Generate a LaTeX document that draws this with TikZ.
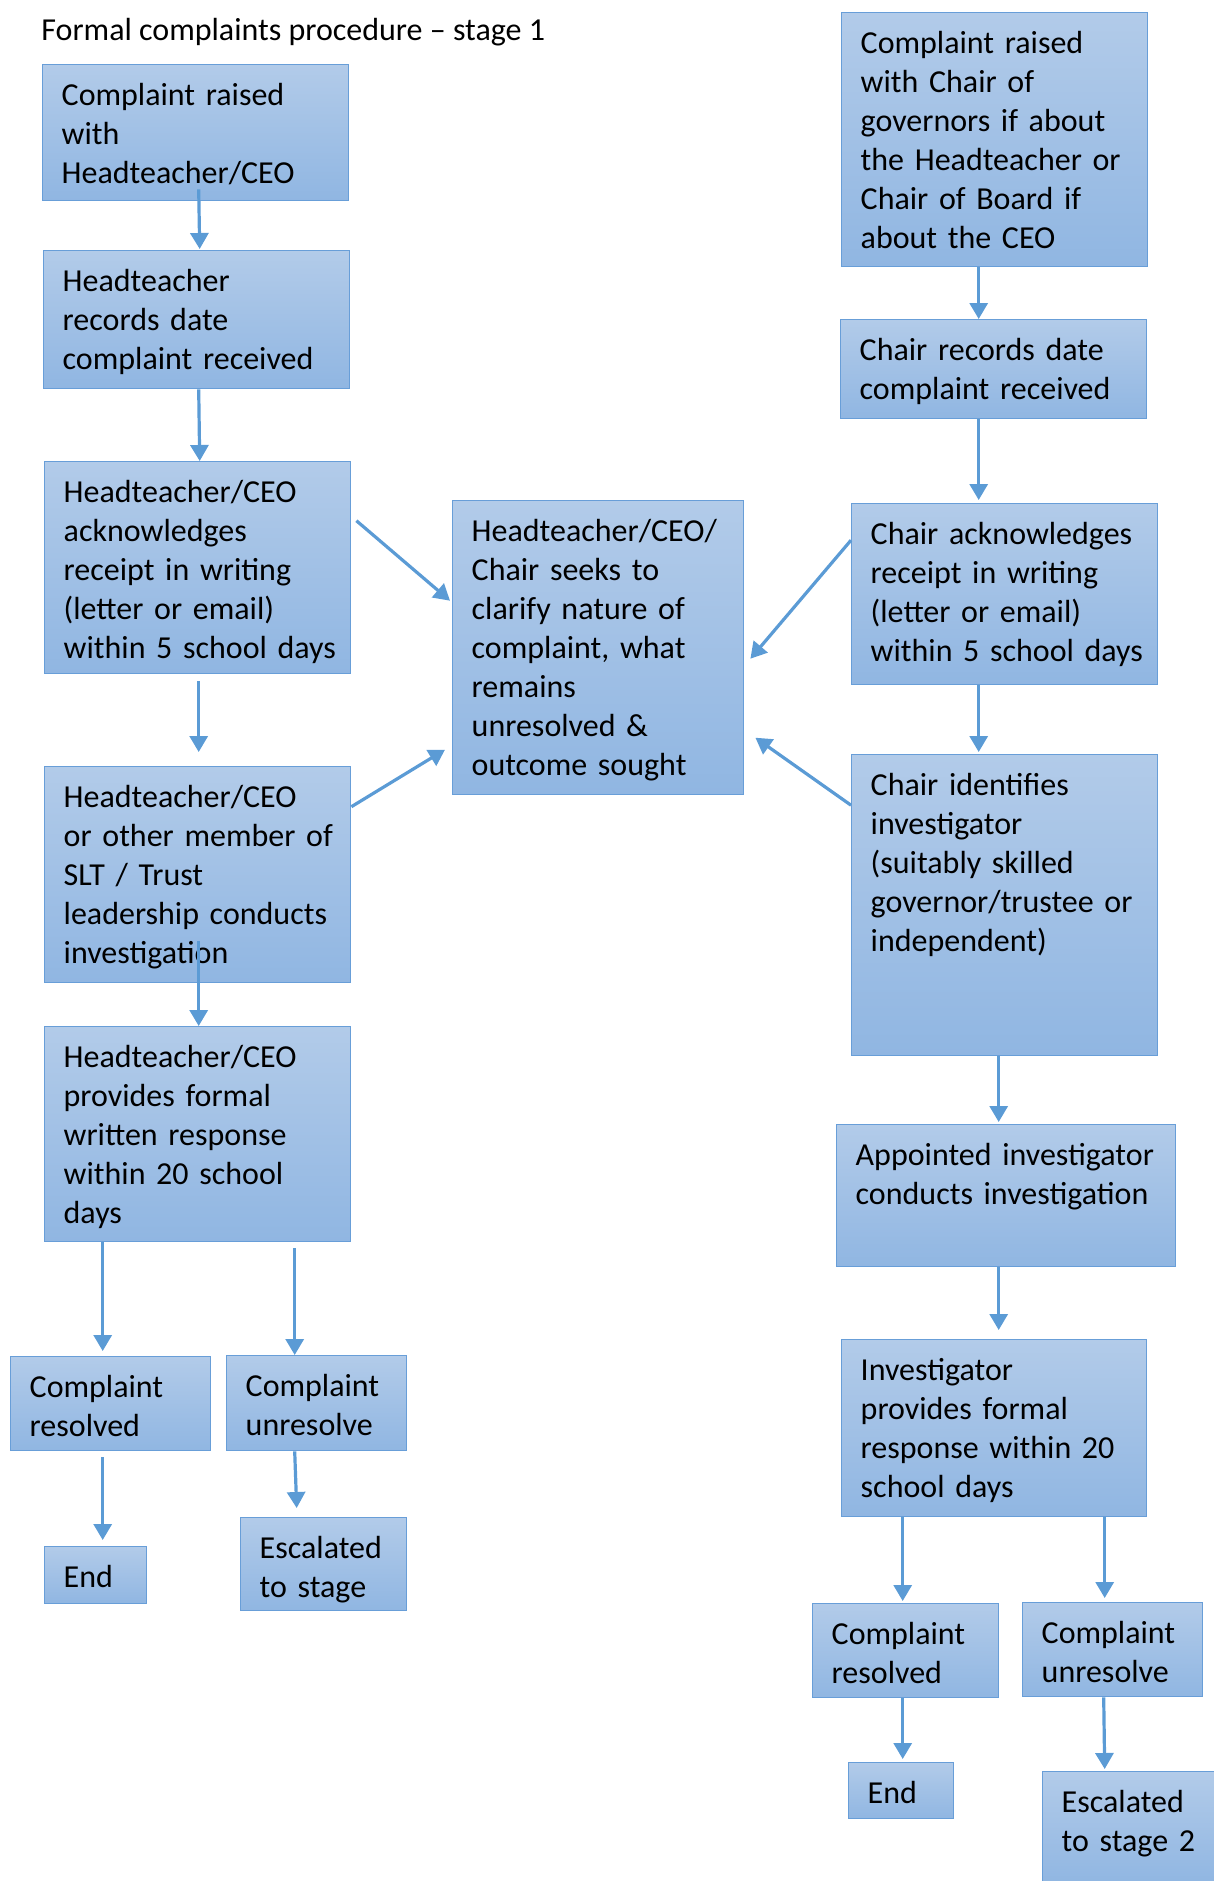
\documentclass[tikz,border=0pt]{standalone}
\usepackage{fontspec}
\setmainfont{Carlito}
\usetikzlibrary{arrows.meta}
\definecolor{boxtop}{RGB}{178,203,233}
\definecolor{boxbot}{RGB}{144,182,226}
\definecolor{boxline}{RGB}{104,158,216}
\definecolor{arrowblue}{RGB}{91,155,213}

\begin{document}
\begin{tikzpicture}[x=0.5pt, y=-0.5pt,
    box/.style={rectangle, draw=boxline, line width=0.7pt, top color=boxtop, bottom color=boxbot,
        anchor=north west, inner xsep=9.5pt, inner ysep=4pt, text height=16.5pt,
        font=\fontsize{16}{19.5}\selectfont, execute at begin node={\rightskip=0pt minus 30pt}},
    arr/.style={draw=arrowblue, line width=1.6pt, -{Triangle[length=8pt, width=9pt]}}]
    \useasboundingbox (0,0) rectangle (1214,1881);
    \clip (0,0) rectangle (1214,1881);

    \node[anchor=base west, inner sep=0pt, font=\fontsize{16}{19.5}\selectfont] (title) at (41,40) {Formal complaints procedure – stage 1};

    \node[box, text width=134pt, text depth=43.5pt] (l1) at (42,64) {Complaint raised\\with\\Headteacher/CEO};
    \node[box, text width=134pt, text depth=44.5pt] (l2) at (43,250) {Headteacher\\records date\\complaint received};
    \node[box, text width=134pt, text depth=81.5pt] (l3) at (44,461) {Headteacher/CEO\\acknowledges\\receipt in writing\\(letter or email)\\within 5 school days};
    \node[box, text width=134pt, text depth=83.5pt] (l4) at (44,766) {Headteacher/CEO\\or other member of\\SLT / Trust\\leadership conducts\\investigation};
    \node[box, text width=134pt, text depth=83pt] (l5) at (44,1026) {Headteacher/CEO\\provides formal\\written response\\within 20 school\\days};
    \node[box, text width=81pt, text depth=22.5pt] (l6a) at (10,1356) {Complaint\\resolved};
    \node[box, text width=71pt, text depth=23pt] (l6b) at (226,1355) {Complaint\\unresolve};
    \node[box, text width=32pt, text depth=4pt] (l7a) at (44,1546) {End};
    \node[box, text width=64pt, text depth=22pt] (l7b) at (240,1517) {Escalated\\to stage};

    \node[box, text width=126.5pt, text depth=122.5pt] (mid) at (452,500) {Headteacher/CEO/\\Chair seeks to\\clarify nature of\\complaint, what\\remains\\unresolved \&\\outcome sought};

    \node[box, text width=134pt, text depth=102.5pt] (r1) at (841,12) {Complaint raised\\with Chair of\\governors if about\\the Headteacher or\\Chair of Board if\\about the CEO};
    \node[box, text width=134pt, text depth=25pt] (r2) at (840,319) {Chair records date\\complaint received};
    \node[box, text width=134pt, text depth=66pt] (r3) at (851,503) {Chair acknowledges\\receipt in writing\\(letter or email)\\within 5 school days};
    \node[box, text width=134pt, text depth=126pt] (r4) at (851,754) {Chair identifies\\investigator\\(suitably skilled\\governor/trustee or\\independent)};
    \node[box, text width=150.5pt, text depth=46.5pt] (r5) at (836,1124) {Appointed investigator\\conducts investigation};
    \node[box, text width=133.5pt, text depth=64pt] (r6) at (841,1339) {Investigator\\provides formal\\response within 20\\school days};
    \node[box, text width=74pt, text depth=22.5pt] (r7a) at (812,1603) {Complaint\\resolved};
    \node[box, text width=71pt, text depth=22.5pt] (r7b) at (1022,1602) {Complaint\\unresolve};
    \node[box, text width=33.5pt, text depth=3.5pt] (r8a) at (848,1762) {End};
    \node[box, text width=75pt, text depth=31.5pt] (r8b) at (1042,1771) {Escalated\\to stage 2};

    \draw[arr] ([xshift=1.5pt, yshift=6pt]l1.south) -- ([xshift=1.5pt, yshift=0.5pt]l2.north);
    \draw[arr] ([xshift=1pt]l2.south) -- ([xshift=1pt]l3.north);
    \draw[arr] ([xshift=0.5pt, yshift=-3.5pt]l3.south) -- ([xshift=0.5pt, yshift=7pt]l4.north);
    \draw[arr] ([xshift=0.5pt, yshift=21pt]l4.south) -- ([xshift=0.5pt]l5.north);
    \draw[arr] ([xshift=-47.5pt]l5.south) -- ([xshift=-4pt, yshift=2.5pt]l6a.north);
    \draw[arr] ([xshift=48.5pt, yshift=-3pt]l5.south) -- ([xshift=-11pt]l6b.north);
    \draw[arr] ([xshift=-4pt, yshift=-3pt]l6a.south) -- ([xshift=3.5pt, yshift=3pt]l7a.north);
    \draw[arr] ([xshift=-11pt]l6b.south) -- ([xshift=-13.5pt, yshift=4.5pt]l7b.north);

    \draw[arr] ([shift={(2.5pt,23.5pt)}]l3.east) -- ([shift={(-1pt,23.5pt)}]mid.west);
    \draw[arr] ([yshift=34pt]l4.east) -- ([shift={(-3.5pt,-51pt)}]mid.west);
    \draw[arr] ([yshift=27pt]r3.west) -- ([shift={(3pt,-5.5pt)}]mid.east);
    \draw[arr] ([yshift=50pt]r4.west) -- ([shift={(5.5pt,-45pt)}]mid.east);

    \draw[arr] ([xshift=-8pt]r1.south) -- ([xshift=-7.5pt]r2.north);
    \draw[arr] ([xshift=-7.5pt]r2.south) -- ([xshift=-13pt, yshift=1.5pt]r3.north);
    \draw[arr] ([xshift=-13pt]r3.south) -- ([xshift=-13pt, yshift=1pt]r4.north);
    \draw[arr] ([xshift=-3pt]r4.south) -- ([xshift=-3.75pt, yshift=1pt]r5.north);
    \draw[arr] ([xshift=-3.75pt]r5.south) -- ([xshift=2.25pt, yshift=4.5pt]r6.north);
    \draw[arr] ([xshift=-45.75pt]r6.south) -- ([xshift=-1.5pt, yshift=1pt]r7a.north);
    \draw[arr] ([xshift=55.25pt]r6.south) -- ([xshift=-4pt, yshift=2pt]r7b.north);
    \draw[arr] ([xshift=-1.5pt]r7a.south) -- ([xshift=0.75pt, yshift=1.5pt]r8a.north);
    \draw[arr] ([xshift=-4.5pt]r7b.south) -- ([xshift=-16pt, yshift=1pt]r8b.north);
\end{tikzpicture}
\end{document}
